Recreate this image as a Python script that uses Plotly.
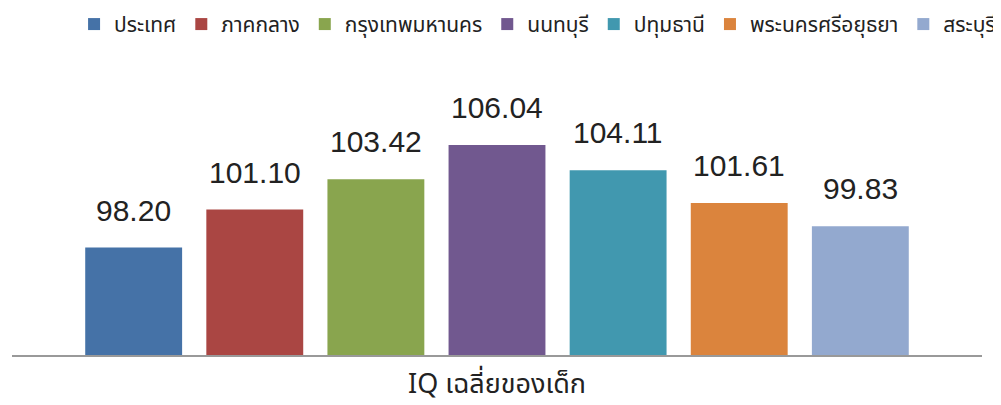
import plotly.graph_objects as go

category = "IQ เฉลี่ยของเด็ก"
series_names = ["ประเทศ", "ภาคกลาง", "กรุงเทพมหานคร", "นนทบุรี", "ปทุมธานี", "พระนครศรีอยุธยา", "สระบุรี"]
values = [98.20, 101.10, 103.42, 106.04, 104.11, 101.61, 99.83]
colors = ["#4572A7", "#AA4643", "#89A54E", "#71588F", "#4198AF", "#DB843D", "#93A9CF"]

bargap = 0.126
fig = go.Figure()
for name, v, c in zip(series_names, values, colors):
    fig.add_trace(go.Bar(
        name=name, x=[category], y=[v], marker_color=c, marker_line_width=0,
        hoverinfo="name+y",
    ))

n = len(values)
slot = (1 - bargap) / n
for i, v in enumerate(values):
    fig.add_annotation(
        x=-0.5 + bargap / 2 + (i + 0.5) * slot, y=v, xref="x", yref="y",
        text=f"{v:.2f}", showarrow=False, yanchor="bottom", yshift=19,
        font=dict(family="Liberation Sans, Arial", size=30, color="#222"),
    )

fig.update_layout(
    width=1001, height=405,
    margin=dict(l=4, r=27, t=85, b=58, autoexpand=False),
    paper_bgcolor="white", plot_bgcolor="white",
    barmode="group", bargap=bargap, bargroupgap=0.2,
    showlegend=True,
    legend=dict(orientation="h", xref="container", yref="paper", x=0.066, y=1.34,
                xanchor="left", yanchor="top",
                font=dict(size=21, color="#222"), traceorder="normal",
                bgcolor="rgba(0,0,0,0)"),
    font=dict(family="Noto Sans Thai, Noto Sans, DejaVu Sans, sans-serif"),
    xaxis=dict(showline=True, linecolor="#999", linewidth=2, ticks="",
               range=[-0.5, 0.5], ticklabelstandoff=4, automargin=False,
               tickfont=dict(size=27, color="#222"), showgrid=False),
    yaxis=dict(range=[90, 110], visible=False, showgrid=False, automargin=False),
)

fig.write_html("out.html")
